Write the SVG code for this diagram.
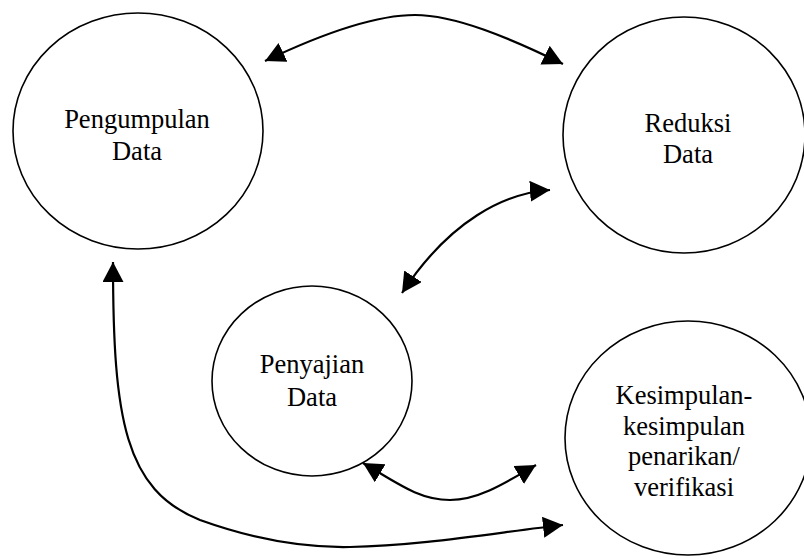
<svg xmlns="http://www.w3.org/2000/svg" width="804" height="559" viewBox="0 0 804 559">
<style>
  .node ellipse { fill: none; stroke: #000; stroke-width: 1.6; }
  .node text { font-family: "Liberation Serif", "Times New Roman", serif; font-size: 26.5px; fill: #000; text-anchor: middle; }
  .conn path { fill: none; stroke: #000; stroke-width: 2.2; marker-start: url(#ah); marker-end: url(#ah); }
</style>
<defs>
  <marker id="ah" markerUnits="userSpaceOnUse" markerWidth="22" markerHeight="22" refX="20" refY="10.5" orient="auto-start-reverse">
    <path d="M0,0 L20,10.5 L0,21 z" fill="#000"/>
  </marker>
</defs>
<rect width="804" height="559" fill="#fff"/>
<g id="pengumpulan" class="node">
  <ellipse cx="138" cy="131" rx="125" ry="118"/>
  <text x="137" y="128">Pengumpulan</text>
  <text x="137" y="160">Data</text>
</g>
<g id="reduksi" class="node">
  <ellipse cx="684" cy="135" rx="121" ry="118"/>
  <text x="688" y="132">Reduksi</text>
  <text x="688" y="163">Data</text>
</g>
<g id="penyajian" class="node">
  <ellipse cx="312" cy="381" rx="100" ry="95"/>
  <text x="312" y="373">Penyajian</text>
  <text x="312" y="406">Data</text>
</g>
<g id="kesimpulan" class="node">
  <ellipse cx="688" cy="438" rx="123" ry="117"/>
  <text x="684" y="404">Kesimpulan-</text>
  <text x="684" y="435">kesimpulan</text>
  <text x="684" y="465">penarikan/</text>
  <text x="684" y="496">verifikasi</text>
</g>
<g id="connectors" class="conn">
  <path d="M265,61 C330,30 380,15 415,15 C455,15 510,38 563,64"/>
  <path d="M550,190 C505,193 450,220 402,293"/>
  <path d="M363,463 C400,485 420,500 450,500 C480,500 510,480 536,465"/>
  <path d="M113,262 C113,420 125,490 200,520 C250,538 300,548 350,547 C420,546 500,532 563,525"/>
</g>
</svg>
